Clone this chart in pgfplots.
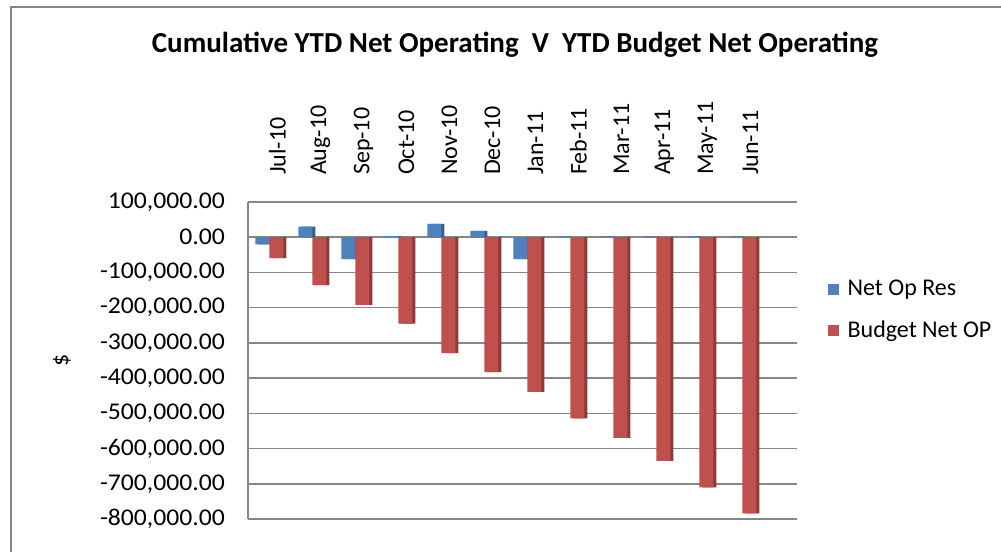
\documentclass[border=0pt]{standalone}
\usepackage{pgfplots}
\pgfplotsset{compat=1.18}
\usepackage{fontspec}
\setmainfont{Carlito}
\newfontfamily\tickfont{Carlito}[FakeStretch=1.07]
\definecolor{netop}{HTML}{4F81BD}
\definecolor{netopdark}{HTML}{385D8A}
\definecolor{budget}{HTML}{C0504D}
\definecolor{budgetdark}{HTML}{8C3A38}
\definecolor{gridgray}{HTML}{868686}
\begin{document}
\begin{tikzpicture}
\useasboundingbox (0,0) rectangle (500.5pt,276pt);
\draw[gridgray, line width=1pt] (5.5pt,0) -- (5.5pt,272.5pt) -- (500.5pt,272.5pt);
\node[font=\fontsize{14.5}{16}\selectfont\bfseries] at (257.5pt,253.5pt) {Cumulative YTD Net Operating\ \ V\ \ YTD Budget Net Operating};
\node[rotate=90, font=\fontsize{12}{14}\selectfont] at (31pt,96pt) {\$};
\begin{axis}[
  at={(124pt,16.5pt)}, anchor=south west,
  scale only axis, width=274.5pt, height=158.5pt,
  xmin=-0.5, xmax=12.27, ymin=-800000, ymax=100000,
  ytick={-800000,-700000,-600000,-500000,-400000,-300000,-200000,-100000,0,100000},
  xtick={0,...,11},
  xticklabels={Jul-10,Aug-10,Sep-10,Oct-10,Nov-10,Dec-10,Jan-11,Feb-11,Mar-11,Apr-11,May-11,Jun-11},
  axis y line*=left, axis x line*=top,
  x axis line style={draw=none},
  y axis line style={gridgray, line width=1pt},
  major tick length=0pt,
  ymajorgrids, grid style={gridgray, line width=0.8pt},
  xticklabel style={rotate=90, anchor=west, yshift=-4pt, font=\fontsize{12}{14}\selectfont},
  xticklabel shift=10pt,
  yticklabel style={font=\fontsize{12}{14}\selectfont\tickfont, xshift=-8pt},
  /pgf/number format/.cd, fixed, fixed zerofill, precision=2, 1000 sep={,}, assume math mode=true,
  /pgfplots/.cd,
  scaled y ticks=false,
  ybar, bar width=7pt,
  legend style={at={(axis description cs:1.055,0.659)}, anchor=west, draw=none, fill=none,
    font=\fontsize{12}{14}\selectfont, row sep=7pt, column sep=2.5pt, inner sep=0pt},
  legend cell align=left,
  legend image code/.code={\fill[#1] (0pt,-2.75pt) rectangle (5.5pt,2.75pt);},
]
\addplot[fill=netopdark, draw=none, bar shift=-2pt, forget plot] coordinates {
 (0,-20000) (1,30000) (2,-62000) (3,3000) (4,38000) (5,18000)
 (6,-62000) (7,2000) (8,2000) (9,2000) (10,2000) (11,2000)};
\addplot[fill=netop, draw=none, bar shift=-3.5pt] coordinates {
 (0,-20000) (1,30000) (2,-62000) (3,3000) (4,38000) (5,18000)
 (6,-62000) (7,2000) (8,2000) (9,2000) (10,2000) (11,2000)};
\addplot[fill=budgetdark, draw=none, bar shift=5pt, forget plot] coordinates {
 (0,-59000) (1,-136000) (2,-192000) (3,-245000) (4,-329000) (5,-383000)
 (6,-439000) (7,-514000) (8,-570000) (9,-635000) (10,-710000) (11,-784000)};
\addplot[fill=budget, draw=none, bar shift=3.5pt] coordinates {
 (0,-59000) (1,-136000) (2,-192000) (3,-245000) (4,-329000) (5,-383000)
 (6,-439000) (7,-514000) (8,-570000) (9,-635000) (10,-710000) (11,-784000)};
\legend{Net Op Res, Budget Net OP}
\end{axis}
\end{tikzpicture}
\end{document}
